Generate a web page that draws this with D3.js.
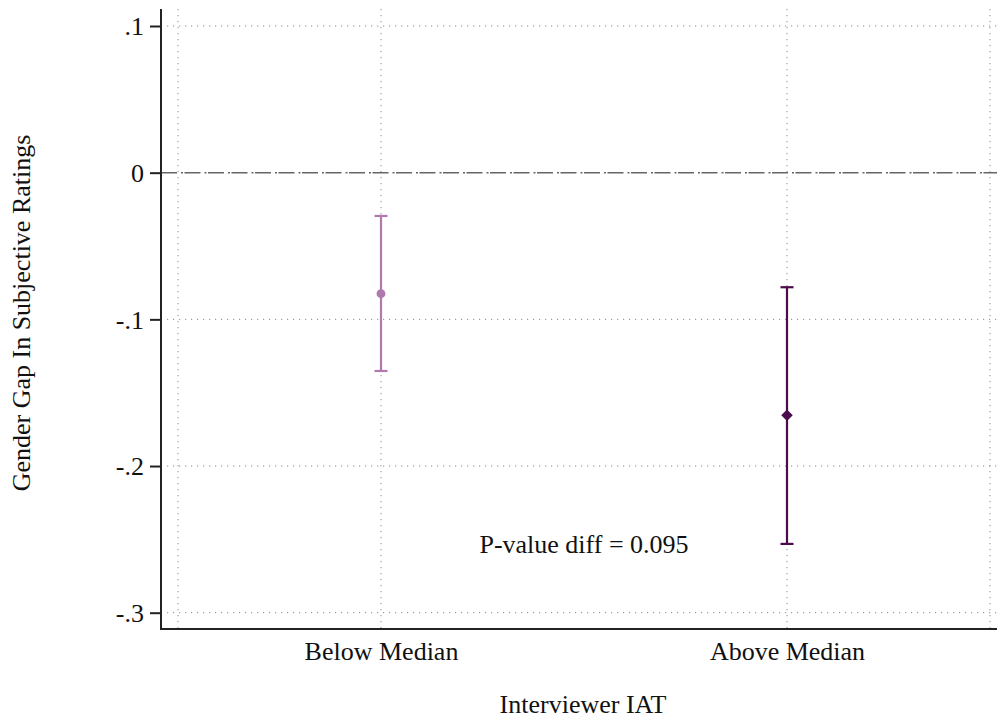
<!DOCTYPE html>
<html>
<head>
<meta charset="utf-8">
<script src="https://cdn.jsdelivr.net/npm/d3@7"></script>
<style>
  html, body { margin: 0; padding: 0; background: #fff; }
  svg { display: block; }
  text { font-family: "Liberation Serif", "Times New Roman", serif; fill: #111; }
</style>
</head>
<body>
<svg id="chart" width="998" height="720"></svg>
<script>
// Data
const categories = ["Below Median", "Above Median"];
const categoryPos = [1, 2];
const estimates = [-0.0825, -0.1654];
const ciLower = [-0.1352, -0.2531];
const ciUpper = [-0.0295, -0.0781];
const markerShapes = ["circle", "diamond"];
const seriesColors = ["#b07aae", "#4b0b4d"];
const yTicks = [0.1, 0, -0.1, -0.2, -0.3];
const yTickLabels = [".1", "0", "-.1", "-.2", "-.3"];
const xGrid = [0.5, 1, 2, 2.5];
const annotation = "P-value diff = 0.095";
const annotationPos = [1.5, -0.2595];
const xTitle = "Interviewer IAT";
const yTitle = "Gender Gap In Subjective Ratings";

const svg = d3.select("#chart");
const x = d3.scaleLinear().domain([0.5, 2.5]).range([178, 990]);
const y = d3.scaleLinear().domain([-0.3, 0.1]).range([612.7, 26]);

const axisLeftX = 161, axisBottomY = 629, plotTop = 9, plotRight = 997;
const fs = 26;

// Horizontal grid (skip 0 — drawn as reference line)
svg.append("g").selectAll("line")
  .data(yTicks.filter(d => d !== 0))
  .join("line")
  .attr("x1", 167).attr("x2", plotRight)
  .attr("y1", d => y(d)).attr("y2", d => y(d))
  .attr("stroke", "#8a8a8a").attr("stroke-width", 1)
  .attr("stroke-dasharray", "1.2,4.8");

// Vertical grid
svg.append("g").selectAll("line")
  .data(xGrid)
  .join("line")
  .attr("x1", d => x(d)).attr("x2", d => x(d))
  .attr("y1", plotTop).attr("y2", axisBottomY)
  .attr("stroke", "#8a8a8a").attr("stroke-width", 1)
  .attr("stroke-dasharray", "1.2,4.8");

// Zero reference line (dash-dot)
svg.append("line")
  .attr("x1", axisLeftX).attr("x2", plotRight)
  .attr("y1", y(0)).attr("y2", y(0))
  .attr("stroke", "#666").attr("stroke-width", 1.5)
  .attr("stroke-dasharray", "16,4,2,1.5");

// Y axis
const yAxis = d3.axisLeft(y).tickValues(yTicks)
  .tickFormat((d, i) => yTickLabels[i]).tickSize(11).tickPadding(6);
const gy = svg.append("g").attr("transform", `translate(${axisLeftX},0)`).call(yAxis);
gy.attr("font-family", null);
gy.select(".domain").remove();
gy.selectAll(".tick line").attr("stroke", "#222").attr("stroke-width", 2);
gy.selectAll(".tick text").attr("font-size", fs).attr("fill", "#111").attr("dy", "0.34em");
svg.append("line").attr("x1", axisLeftX).attr("x2", axisLeftX)
  .attr("y1", plotTop).attr("y2", axisBottomY + 1)
  .attr("stroke", "#222").attr("stroke-width", 2);

// X axis
const xAxis = d3.axisBottom(x).tickValues(categoryPos)
  .tickFormat((d, i) => categories[i]).tickSize(0).tickPadding(13);
const gx = svg.append("g").attr("transform", `translate(0,${axisBottomY})`).call(xAxis);
gx.attr("font-family", null);
gx.select(".domain").remove();
gx.selectAll(".tick text").attr("font-size", fs).attr("fill", "#111");
svg.append("line").attr("x1", axisLeftX - 1).attr("x2", plotRight)
  .attr("y1", axisBottomY).attr("y2", axisBottomY)
  .attr("stroke", "#222").attr("stroke-width", 2);

// Error bars and markers
const rows = categories.map((c, i) => ({
  c, pos: categoryPos[i], est: estimates[i], lo: ciLower[i], hi: ciUpper[i],
  shape: markerShapes[i], color: seriesColors[i]
}));
const capHalf = 6.5;
const g = svg.append("g");
rows.forEach(r => {
  const gx0 = x(r.pos);
  g.append("line").attr("x1", gx0).attr("x2", gx0)
    .attr("y1", y(r.hi)).attr("y2", y(r.lo))
    .attr("stroke", r.color).attr("stroke-width", 2.2);
  [r.hi, r.lo].forEach(v => {
    g.append("line").attr("x1", gx0 - capHalf).attr("x2", gx0 + capHalf)
      .attr("y1", y(v)).attr("y2", y(v))
      .attr("stroke", r.color).attr("stroke-width", 2.2);
  });
  const sym = r.shape === "circle" ? d3.symbolCircle : d3.symbolDiamond2;
  const size = r.shape === "circle" ? 62 : 85;
  g.append("path")
    .attr("d", d3.symbol().type(sym).size(size)())
    .attr("transform", `translate(${gx0},${y(r.est)})`)
    .attr("fill", r.color);
});

// Annotation
svg.append("text")
  .attr("x", x(annotationPos[0])).attr("y", y(annotationPos[1]))
  .attr("text-anchor", "middle").attr("font-size", fs)
  .text(annotation);

// Axis titles
svg.append("text")
  .attr("x", (axisLeftX + plotRight) / 2 + 4).attr("y", 713)
  .attr("text-anchor", "middle").attr("font-size", fs)
  .text(xTitle);
svg.append("text")
  .attr("transform", `translate(30,${(plotTop + axisBottomY) / 2 - 6}) rotate(-90)`)
  .attr("text-anchor", "middle").attr("font-size", fs)
  .text(yTitle);
</script>
</body>
</html>
